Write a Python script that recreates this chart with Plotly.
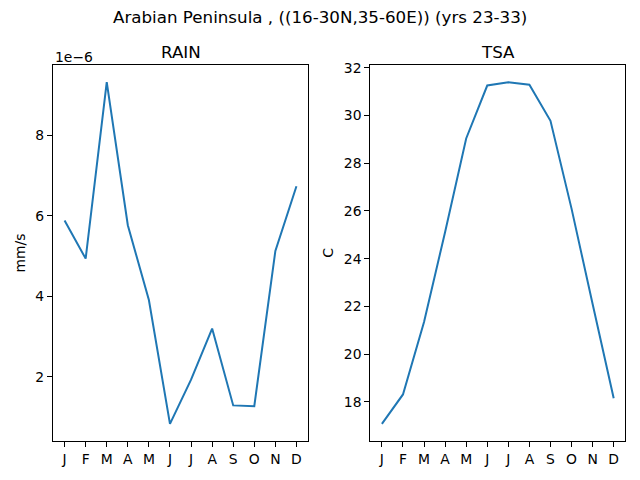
import plotly.graph_objects as go
from plotly.subplots import make_subplots

months = ["J", "F", "M", "A", "M", "J", "J", "A", "S", "O", "N", "D"]
rain = [5.89e-6, 4.94e-6, 9.33e-6, 5.77e-6, 3.91e-6, 0.83e-6,
        1.93e-6, 3.20e-6, 1.29e-6, 1.27e-6, 5.13e-6, 6.74e-6]
tsa = [17.08, 18.31, 21.35, 25.12, 29.04, 31.26,
       31.40, 31.29, 29.78, 26.10, 22.10, 18.15]

title = "Arabian Peninsula , ((16-30N,35-60E)) (yrs 23-33)"
font = "DejaVu Sans, Liberation Sans, sans-serif"
blue = "#1f77b4"
small = 13.9
big = 16.7

idx = list(range(len(months)))
rain_scaled = [v * 1e6 for v in rain]

fig = make_subplots(rows=1, cols=2)

fig.add_trace(go.Scatter(x=idx, y=rain_scaled, mode="lines",
                         line=dict(color=blue, width=2)), row=1, col=1)
fig.add_trace(go.Scatter(x=idx, y=tsa, mode="lines",
                         line=dict(color=blue, width=2)), row=1, col=2)

axis_style = dict(showgrid=False, zeroline=False, showline=True, linecolor="black",
                  linewidth=1, mirror=True, ticks="outside", ticklen=5,
                  tickcolor="black", tickwidth=1, automargin=False,
                  tickfont=dict(family=font, size=small, color="black"))

fig.update_xaxes(tickvals=idx, ticktext=months, range=[-0.55, 11.55], **axis_style)
fig.update_yaxes(**axis_style)

fig.update_layout(
    xaxis=dict(domain=[0.0828, 0.4813]),
    xaxis2=dict(domain=[0.5786, 0.977]),
    yaxis=dict(domain=[0.0813, 0.8646], range=[0.405, 9.755], tickvals=[2, 4, 6, 8],
               title=dict(text="mm/s", font=dict(family=font, size=small, color="black"),
                          standoff=6)),
    yaxis2=dict(domain=[0.0813, 0.8646], range=[16.36, 32.12],
                tickvals=[18, 20, 22, 24, 26, 28, 30, 32],
                title=dict(text="C", font=dict(family=font, size=small, color="black"),
                           standoff=6)),
    width=640, height=480,
    margin=dict(l=0, r=0, t=0, b=0, autoexpand=False),
    paper_bgcolor="white", plot_bgcolor="white",
    showlegend=False,
    font=dict(family=font, color="black"),
)

fig.add_annotation(text=title, x=0.5, y=1 - 17 / 480, xref="paper", yref="paper",
                   showarrow=False, font=dict(family=font, size=big, color="black"),
                   xanchor="center", yanchor="middle")
fig.add_annotation(text="RAIN", x=(0.0828 + 0.4813) / 2, y=0.8646, xref="paper",
                   yref="paper", showarrow=False, yshift=1,
                   font=dict(family=font, size=big, color="black"),
                   xanchor="center", yanchor="bottom")
fig.add_annotation(text="TSA", x=(0.5786 + 0.977) / 2, y=0.8646, xref="paper",
                   yref="paper", showarrow=False, yshift=1,
                   font=dict(family=font, size=big, color="black"),
                   xanchor="center", yanchor="bottom")
fig.add_annotation(text="1e\u22126", x=0.0828, y=0.8646, xref="paper", yref="paper",
                   showarrow=False, yshift=-2,
                   font=dict(family=font, size=small, color="black"),
                   xanchor="left", yanchor="bottom")

# the page has a default 8px body margin, drop it so the figure sits at 0,0
fig.write_html("out.html", config={"displayModeBar": False},
               post_script="document.body.style.margin='0';")
